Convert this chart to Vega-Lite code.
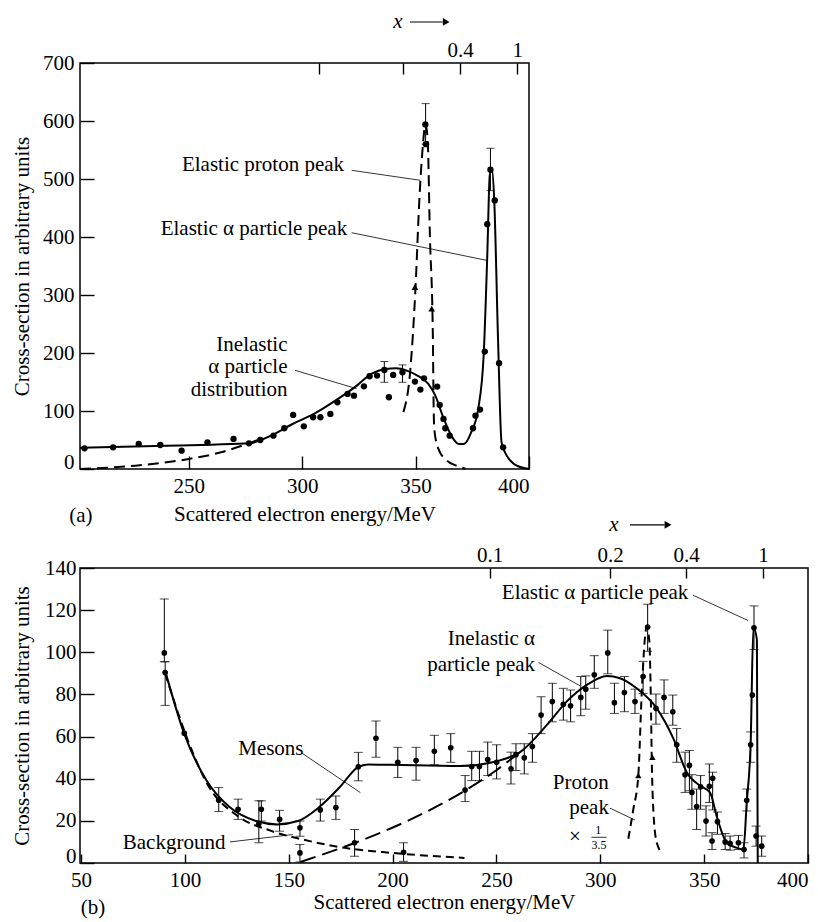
{
"$schema":"https://vega.github.io/schema/vega-lite/v6.json",
"background":"white",
"padding":{"left":10,"top":10,"right":5,"bottom":5},
"bounds":"flush",
"spacing":99,
"config":{
 "font":"Liberation Serif, DejaVu Serif, serif",
 "view":{"stroke":"#000","strokeWidth":1.5},
 "axis":{"labelFont":"Liberation Serif, DejaVu Serif, serif","labelFontSize":21,"labelColor":"#000","titleFont":"Liberation Serif, DejaVu Serif, serif","titleFontSize":21,"titleFontWeight":"normal","titleColor":"#000","tickColor":"#000","tickWidth":1.4,"domain":false,"grid":false,"labelOverlap":false},
 "text":{"font":"Liberation Serif, DejaVu Serif, serif","fontSize":21,"color":"#000"}
},
"datasets":{
 "aPts":[{"E":204.0,"v":35.7},{"E":216.6,"v":37.4},{"E":227.9,"v":43.1},{"E":237.4,"v":41.4},{"E":246.8,"v":31.6},{"E":258.2,"v":46.0},{"E":269.7,"v":51.8},{"E":276.5,"v":44.3},{"E":281.5,"v":50.0},{"E":287.3,"v":57.5},{"E":292.1,"v":70.2},{"E":296.0,"v":93.2},{"E":300.7,"v":73.6},{"E":304.8,"v":89.2},{"E":308.0,"v":89.2},{"E":312.4,"v":94.9},{"E":315.5,"v":115.0},{"E":320.0,"v":129.4},{"E":322.8,"v":126.5},{"E":327.2,"v":142.6},{"E":329.7,"v":159.9},{"E":333.0,"v":161.0},{"E":336.2,"v":170.8},{"E":338.2,"v":123.7},{"E":340.1,"v":162.2},{"E":344.2,"v":166.8},{"E":349.7,"v":150.7},{"E":352.1,"v":136.9},{"E":353.7,"v":156.4},{"E":359.5,"v":142.1},{"E":360.6,"v":110.4},{"E":362.3,"v":86.3},{"E":363.1,"v":70.2},{"E":365.0,"v":57.5},{"E":375.3,"v":70.2},{"E":376.4,"v":92.0},{"E":378.4,"v":102.4},{"E":380.5,"v":202.5},{"E":381.6,"v":422},{"E":383.0,"v":516},{"E":384.9,"v":463},{"E":386.8,"v":182.3},{"E":388.6,"v":37.4},{"E":354.3,"v":594},{"E":354.5,"v":560}],
 "aErr":[{"E":336.2,"lo":149.5,"hi":185.3},{"E":344.2,"lo":149.5,"hi":179.5},{"E":354.4,"lo":560,"hi":630},{"E":383.0,"lo":480,"hi":553}],
 "aSolid":[{"E":202,"v":36.8},{"E":240,"v":40},{"E":260,"v":42},{"E":276.8,"v":44.3},{"E":286.2,"v":57.5},{"E":295.7,"v":77.6},{"E":305.1,"v":94.9},{"E":314.6,"v":117.9},{"E":324.1,"v":143.8},{"E":330.4,"v":163.9},{"E":336.7,"v":172.6},{"E":341.4,"v":173.7},{"E":346.1,"v":169.7},{"E":350.8,"v":161.0},{"E":355.6,"v":146.7},{"E":358.7,"v":126.5},{"E":361.9,"v":92.0},{"E":365.0,"v":63.3},{"E":369.0,"v":43.1},{"E":371.3,"v":43.1},{"E":374.5,"v":63.3},{"E":377.6,"v":103.5},{"E":380.0,"v":195.6},{"E":381.6,"v":368.1},{"E":382.7,"v":506.2},{"E":383.6,"v":517.7},{"E":384.7,"v":460.2},{"E":386.3,"v":230.1},{"E":387.9,"v":46.0},{"E":390.2,"v":23.0},{"E":393.4,"v":8.6},{"E":398.1,"v":1.2},{"E":400,"v":0}],
 "aDash":[{"s":"a","E":202,"v":0},{"s":"a","E":226.4,"v":5.8},{"s":"a","E":250,"v":17.3},{"s":"a","E":264.2,"v":28.8},{"s":"a","E":276.8,"v":44.9},{"s":"a","E":281.5,"v":51.8},
  {"s":"b","E":344.6,"v":98},{"s":"b","E":347.7,"v":172.6},{"s":"b","E":350.0,"v":316.3},{"s":"b","E":351.6,"v":460.2},{"s":"b","E":353.2,"v":557.9},{"s":"b","E":354.3,"v":594},{"s":"b","E":355.3,"v":570},{"s":"b","E":356.3,"v":402.6},{"s":"b","E":357.6,"v":230},{"s":"b","E":357.9,"v":120},{"s":"b","E":358.2,"v":70},{"s":"b","E":360,"v":35},{"s":"b","E":363.7,"v":15},{"s":"b","E":368.8,"v":4.6},{"s":"b","E":372,"v":0.5}],
 "aArr":[{"E":349.7,"v":313.8},{"E":357.1,"v":276.4}],
 "aLabC":[{"E":282.7,"v":523.6,"t":"Elastic proton peak"},{"E":278.7,"v":414.3,"t":"Elastic α particle peak"},{"E":202.4,"v":-81,"t":"(a)"}],
 "aLabR":[{"E":293.5,"v":213.3,"t":"Inelastic"},{"E":293.5,"v":175.9,"t":"α particle"},{"E":293.5,"v":135.7,"t":"distribution"}],
 "aLead":[{"E":321.8,"v":515,"E2":352.0,"v2":497.8},{"E":321.8,"v":407.4,"E2":381.3,"v2":359.8},{"E":296.8,"v":170.2,"E2":324.0,"v2":138.5}],
 "aX":[{"E":342.2,"v":770.7,"t":"x"}],
 "aXr":[{"E":347.5,"E2":362,"v":770.7}],
 "aXh":[{"E":363.5,"v":770.7}],
 "bPts":[{"E":90.1,"v":99.7},{"E":90.5,"v":90.4},{"E":99.7,"v":61.6},{"E":116.3,"v":29.8},{"E":125.6,"v":25.5},{"E":135.6,"v":18.6},{"E":136.8,"v":25.5},{"E":145.6,"v":20.7},{"E":155.4,"v":16.7},{"E":155.4,"v":4.8},{"E":165.2,"v":25.2},{"E":172.7,"v":26.3},{"E":183.5,"v":45.7},{"E":181.7,"v":9.6},{"E":192.0,"v":59.2},{"E":202.5,"v":47.8},{"E":205.3,"v":5.1},{"E":211.3,"v":48.6},{"E":220.1,"v":53.0},{"E":228.0,"v":54.7},{"E":234.9,"v":34.6},{"E":238.1,"v":45.8},{"E":241.8,"v":45.8},{"E":245.8,"v":49.1},{"E":250.1,"v":47.8},{"E":257.0,"v":44.7},{"E":259.4,"v":51.4},{"E":263.4,"v":49.9},{"E":267.3,"v":55.3},{"E":271.5,"v":70.2},{"E":276.9,"v":76.6},{"E":282.2,"v":75.3},{"E":285.7,"v":74.6},{"E":290.6,"v":78.6},{"E":293.0,"v":82.5},{"E":297.1,"v":89.3},{"E":303.6,"v":99.7},{"E":306.8,"v":76.1},{"E":311.6,"v":80.9},{"E":316.7,"v":76.6},{"E":320.6,"v":88.5},{"E":322.8,"v":112.0},{"E":326.8,"v":73.4},{"E":330.7,"v":78.6},{"E":334.9,"v":71.8},{"E":336.8,"v":56.1},{"E":340.8,"v":41.9},{"E":342.9,"v":46.3},{"E":344.1,"v":33.5},{"E":346.4,"v":26.8},{"E":348.3,"v":36.2},{"E":350.9,"v":19.9},{"E":352.5,"v":36.4},{"E":354.1,"v":40.2},{"E":353.8,"v":10.4},{"E":356.4,"v":19.6},{"E":360.1,"v":10.0},{"E":362.5,"v":9.3},{"E":366.5,"v":9.6},{"E":369.2,"v":6.4},{"E":370.5,"v":29.8},{"E":372.4,"v":56.1},{"E":373.2,"v":79.7},{"E":374.0,"v":111.6},{"E":375.0,"v":12.8},{"E":377.7,"v":8.0}],
 "bErr":[{"E":90.1,"lo":95.5,"hi":125.3},{"E":90.5,"lo":74.8,"hi":95.5},{"E":116.3,"lo":24.4,"hi":35.8},{"E":125.6,"lo":20.7,"hi":30.3},{"E":135.6,"lo":9.6,"hi":29.5},{"E":136.8,"lo":19.9,"hi":29.5},{"E":145.6,"lo":15.1,"hi":25.0},{"E":155.4,"lo":12.7,"hi":19.9},{"E":155.4,"lo":0.5,"hi":8.8},{"E":165.2,"lo":19.9,"hi":30.3},{"E":172.7,"lo":20.7,"hi":31.8},{"E":183.5,"lo":39.0,"hi":52.5},{"E":181.7,"lo":3.2,"hi":15.9},{"E":192.0,"lo":50.2,"hi":67.4},{"E":202.5,"lo":40.6,"hi":54.9},{"E":205.3,"lo":0.8,"hi":9.6},{"E":211.3,"lo":39.3,"hi":54.9},{"E":220.1,"lo":46.6,"hi":60.6},{"E":228.0,"lo":47.8,"hi":61.4},{"E":234.9,"lo":29.2,"hi":41.5},{"E":238.1,"lo":39.1,"hi":53.0},{"E":241.8,"lo":39.1,"hi":53.0},{"E":245.8,"lo":41.5,"hi":57.4},{"E":250.1,"lo":39.9,"hi":56.1},{"E":257.0,"lo":37.5,"hi":52.6},{"E":259.4,"lo":43.9,"hi":56.6},{"E":263.4,"lo":42.3,"hi":56.6},{"E":267.3,"lo":47.8,"hi":61.4},{"E":271.5,"lo":61.4,"hi":78.9},{"E":276.9,"lo":67.0,"hi":85.3},{"E":282.2,"lo":67.8,"hi":82.9},{"E":285.7,"lo":67.0,"hi":82.1},{"E":290.6,"lo":69.9,"hi":88.5},{"E":293.0,"lo":73.0,"hi":88.8},{"E":297.1,"lo":82.9,"hi":98.4},{"E":303.6,"lo":89.8,"hi":110.5},{"E":306.8,"lo":71.0,"hi":85.3},{"E":311.6,"lo":71.8,"hi":88.5},{"E":316.7,"lo":71.0,"hi":82.5},{"E":320.6,"lo":80.5,"hi":95.7},{"E":322.8,"lo":100.5,"hi":122.8},{"E":326.8,"lo":65.9,"hi":80.2},{"E":330.7,"lo":71.0,"hi":86.9},{"E":334.9,"lo":65.4,"hi":79.7},{"E":336.8,"lo":47.8,"hi":63.8},{"E":340.8,"lo":33.5,"hi":52.6},{"E":342.9,"lo":34.3,"hi":53.4},{"E":344.1,"lo":25.5,"hi":41.9},{"E":346.4,"lo":15.9,"hi":35.1},{"E":348.3,"lo":25.5,"hi":41.5},{"E":350.9,"lo":12.8,"hi":27.1},{"E":352.5,"lo":28.7,"hi":47.0},{"E":354.1,"lo":25.2,"hi":43.1},{"E":353.8,"lo":6.4,"hi":14.4},{"E":356.4,"lo":13.6,"hi":24.2},{"E":360.1,"lo":6.4,"hi":14.0},{"E":362.5,"lo":6.1,"hi":12.8},{"E":366.5,"lo":6.4,"hi":13.1},{"E":369.2,"lo":2.4,"hi":9.6},{"E":370.5,"lo":24.7,"hi":35.1},{"E":372.4,"lo":47.8,"hi":62.2},{"E":374.0,"lo":101.3,"hi":122.0},{"E":375.0,"lo":8.0,"hi":17.5},{"E":377.7,"lo":3.2,"hi":12.8}],
 "bSolid":[{"E":90.5,"v":91.2},{"E":99.7,"v":61.3},{"E":110.5,"v":39.0},{"E":121.8,"v":26.3},{"E":134.3,"v":19.9},{"E":144.4,"v":18.3},{"E":154.4,"v":19.9},{"E":164.4,"v":26.3},{"E":174.4,"v":35.8},{"E":183.2,"v":45.4},{"E":188.2,"v":46.8},{"E":199.5,"v":46.6},{"E":232.5,"v":46.0},{"E":250.1,"v":48.3},{"E":261.4,"v":52.6},{"E":274.2,"v":65.4},{"E":283.8,"v":76.6},{"E":293.5,"v":84.5},{"E":303.1,"v":88.8},{"E":309.5,"v":87.7},{"E":317.5,"v":82.9},{"E":327.2,"v":73.4},{"E":335.2,"v":59.0},{"E":341.6,"v":43.1},{"E":348.0,"v":36.7},{"E":352.8,"v":33.5},{"E":356.0,"v":22.3},{"E":360.9,"v":9.6},{"E":365.7,"v":7.2},{"E":368.9,"v":6.4},{"E":370.5,"v":28.7},{"E":372.4,"v":57.4},{"E":373.7,"v":111.6},{"E":375.4,"v":106},{"E":375.8,"v":0}],
 "bDash":[{"s":"bg","E":90.5,"v":90.0},{"s":"bg","E":101.8,"v":57.3},{"s":"bg","E":111.8,"v":35.8},{"s":"bg","E":124.3,"v":23.1},{"s":"bg","E":141.9,"v":15.1},{"s":"bg","E":156.9,"v":11.1},{"s":"bg","E":176.9,"v":7.2},{"s":"bg","E":199.5,"v":4.8},{"s":"bg","E":234.6,"v":2.4},
  {"s":"pr","E":313.5,"v":11.5},{"s":"pr","E":315.9,"v":25.5},{"s":"pr","E":318.3,"v":41.5},{"s":"pr","E":319.9,"v":79.7},{"s":"pr","E":321.5,"v":106.9},{"s":"pr","E":322.3,"v":112.0},{"s":"pr","E":323.6,"v":105.3},{"s":"pr","E":324.3,"v":79.7},{"s":"pr","E":324.8,"v":47.8},{"s":"pr","E":325.6,"v":23.9},{"s":"pr","E":327.2,"v":9.6},{"s":"pr","E":330.0,"v":4.5}],
 "bMes":[{"E":155.6,"v":0.5},{"E":182,"v":9.6},{"E":207,"v":19.9},{"E":234.6,"v":34.2},{"E":249.6,"v":43.8},{"E":262.2,"v":53.3}],
 "bArr":[{"E":318.3,"v":41.5},{"E":325.1,"v":50.2}],
 "bLabC":[{"E":297.5,"v":128.0,"t":"Elastic α particle peak"},{"E":141.4,"v":54.1,"t":"Mesons"},{"E":94.8,"v":9.7,"t":"Background"},{"E":290.6,"v":37.9,"t":"Proton"},{"E":294.6,"v":26.0,"t":"peak"},{"E":287.8,"v":12.4,"t":"×"},{"E":55.8,"v":-21.5,"t":"(b)"}],
 "bLabR":[{"E":268.6,"v":106.4,"t":"Inelastic α"},{"E":268.6,"v":94.1,"t":"particle peak"}],
 "bSmall":[{"E":299.0,"v":15.8,"t":"1"},{"E":299.4,"v":8.4,"t":"3.5"}],
 "bLead":[{"E":344.6,"v":127.1,"E2":371.1,"v2":115.1},{"E":270.2,"v":95.2,"E2":290.2,"v2":84.1},{"E":156.4,"v":52.1,"E2":184.5,"v2":33.4},{"E":121.7,"v":10.0,"E2":152,"v2":13.5},{"E":304.7,"v":26.0,"E2":316.7,"v2":20.4},{"E":295.7,"v":12.2,"E2":303.0,"v2":12.2}],
 "bX":[{"E":306.6,"v":160.5,"t":"x"}],
 "bXr":[{"E":314.3,"E2":331,"v":160.5}],
 "bXh":[{"E":332.6,"v":160.5}]
},
"vconcat":[
 {"width":449,"height":406,
  "resolve":{"axis":{"x":"independent","y":"independent"}},
  "layer":[
   {"data":{"name":"aPts"},"mark":{"type":"circle","size":40,"color":"#000","opacity":1},
    "encoding":{"x":{"field":"E","type":"quantitative","scale":{"domain":[202,400],"nice":false,"zero":false},"axis":{"orient":"bottom","values":[250,300,350,400],"ticks":false,"labelPadding":6,"title":"Scattered electron energy/MeV","titlePadding":7}},
     "y":{"field":"v","type":"quantitative","scale":{"domain":[0,700],"nice":false,"zero":false},"axis":{"orient":"left","values":[0,100,200,300,400,500,600,700],"ticks":false,"labelPadding":6,"labelOffset":{"condition":{"test":"datum.value === 0","value":-7},"value":0},"title":"Cross-section in arbitrary units","titlePadding":10}}}},
   {"data":{"name":"aPts"},"mark":{"type":"point","opacity":0},
    "encoding":{"x":{"field":"E","type":"quantitative","scale":{"domain":[202,400],"nice":false,"zero":false},"axis":{"orient":"bottom","values":[250,300,350,400],"labels":false,"tickSize":13,"offset":-13,"title":null}},
     "y":{"field":"v","type":"quantitative","scale":{"domain":[0,700],"nice":false,"zero":false},"axis":{"orient":"left","values":[0,100,200,300,400,500,600,700],"labels":false,"tickSize":14,"offset":-14,"title":null}}}},
   {"data":{"name":"aPts"},"mark":{"type":"point","opacity":0},
    "encoding":{"x":{"field":"E","type":"quantitative","scale":{"domain":[202,400],"nice":false,"zero":false},"axis":{"orient":"top","values":[307.5,344.6,369.6,394.8],"labelExpr":"datum.value > 390 ? '1' : datum.value > 360 ? '0.4' : ''","ticks":false,"labelPadding":3,"title":null}},
     "y":{"field":"v","type":"quantitative","scale":{"domain":[0,700],"nice":false,"zero":false},"axis":null}}},
   {"data":{"name":"aPts"},"mark":{"type":"point","opacity":0},
    "encoding":{"x":{"field":"E","type":"quantitative","scale":{"domain":[202,400],"nice":false,"zero":false},"axis":{"orient":"top","values":[307.5,344.6,369.6,394.8],"labels":false,"tickSize":11,"offset":-11,"title":null}},
     "y":{"field":"v","type":"quantitative","scale":{"domain":[0,700],"nice":false,"zero":false},"axis":null}}},
   {"data":{"name":"aErr"},"mark":{"type":"errorbar","ticks":{"size":8},"color":"#000","thickness":1},
    "encoding":{"x":{"field":"E","type":"quantitative","scale":{"domain":[202,400],"nice":false,"zero":false},"axis":null},"y":{"field":"lo","type":"quantitative","scale":{"domain":[0,700],"nice":false,"zero":false},"axis":null},"y2":{"field":"hi"}}},
   {"data":{"name":"aSolid"},"mark":{"type":"line","interpolate":"monotone","color":"#000","strokeWidth":2},
    "encoding":{"x":{"field":"E","type":"quantitative","scale":{"domain":[202,400],"nice":false,"zero":false},"axis":null},"y":{"field":"v","type":"quantitative","scale":{"domain":[0,700],"nice":false,"zero":false},"axis":null}}},
   {"data":{"name":"aDash"},"mark":{"type":"line","interpolate":"monotone","color":"#000","strokeWidth":2,"strokeDash":[11,6]},
    "encoding":{"x":{"field":"E","type":"quantitative","scale":{"domain":[202,400],"nice":false,"zero":false},"axis":null},"y":{"field":"v","type":"quantitative","scale":{"domain":[0,700],"nice":false,"zero":false},"axis":null},"detail":{"field":"s","type":"nominal"}}},
   {"data":{"name":"aArr"},"mark":{"type":"point","shape":"triangle-up","filled":true,"size":45,"color":"#000","opacity":1},
    "encoding":{"x":{"field":"E","type":"quantitative","scale":{"domain":[202,400],"nice":false,"zero":false},"axis":null},"y":{"field":"v","type":"quantitative","scale":{"domain":[0,700],"nice":false,"zero":false},"axis":null}}},
   {"data":{"name":"aLead"},"mark":{"type":"rule","color":"#000","strokeWidth":0.8},
    "encoding":{"x":{"field":"E","type":"quantitative","scale":{"domain":[202,400],"nice":false,"zero":false},"axis":null},"y":{"field":"v","type":"quantitative","scale":{"domain":[0,700],"nice":false,"zero":false},"axis":null},"x2":{"field":"E2"},"y2":{"field":"v2"}}},
   {"data":{"name":"aLabC"},"mark":{"type":"text","align":"center","baseline":"middle"},
    "encoding":{"x":{"field":"E","type":"quantitative","scale":{"domain":[202,400],"nice":false,"zero":false},"axis":null},"y":{"field":"v","type":"quantitative","scale":{"domain":[0,700],"nice":false,"zero":false},"axis":null},"text":{"field":"t"}}},
   {"data":{"name":"aLabR"},"mark":{"type":"text","align":"right","baseline":"middle"},
    "encoding":{"x":{"field":"E","type":"quantitative","scale":{"domain":[202,400],"nice":false,"zero":false},"axis":null},"y":{"field":"v","type":"quantitative","scale":{"domain":[0,700],"nice":false,"zero":false},"axis":null},"text":{"field":"t"}}},
   {"data":{"name":"aX"},"mark":{"type":"text","align":"center","baseline":"middle","fontStyle":"italic"},
    "encoding":{"x":{"field":"E","type":"quantitative","scale":{"domain":[202,400],"nice":false,"zero":false},"axis":null},"y":{"field":"v","type":"quantitative","scale":{"domain":[0,700],"nice":false,"zero":false},"axis":null},"text":{"field":"t"}}},
   {"data":{"name":"aXr"},"mark":{"type":"rule","color":"#000","strokeWidth":1.2},
    "encoding":{"x":{"field":"E","type":"quantitative","scale":{"domain":[202,400],"nice":false,"zero":false},"axis":null},"x2":{"field":"E2"},"y":{"field":"v","type":"quantitative","scale":{"domain":[0,700],"nice":false,"zero":false},"axis":null}}},
   {"data":{"name":"aXh"},"mark":{"type":"point","shape":"triangle-right","filled":true,"size":60,"color":"#000","opacity":1},
    "encoding":{"x":{"field":"E","type":"quantitative","scale":{"domain":[202,400],"nice":false,"zero":false},"axis":null},"y":{"field":"v","type":"quantitative","scale":{"domain":[0,700],"nice":false,"zero":false},"axis":null}}}
  ]},
 {"width":728,"height":295,
  "resolve":{"axis":{"x":"independent","y":"independent"}},
  "layer":[
   {"data":{"name":"bPts"},"mark":{"type":"circle","size":32,"color":"#000","opacity":1},
    "encoding":{"x":{"field":"E","type":"quantitative","scale":{"domain":[49.5,400],"nice":false,"zero":false},"axis":{"orient":"bottom","values":[50,100,150,200,250,300,350,400],"ticks":false,"labelPadding":6,"labelFlush":true,"title":"Scattered electron energy/MeV","titlePadding":1}},
     "y":{"field":"v","type":"quantitative","scale":{"domain":[0,140],"nice":false,"zero":false},"axis":{"orient":"left","values":[0,20,40,60,80,100,120,140],"ticks":false,"labelPadding":4,"labelOffset":{"condition":{"test":"datum.value === 0","value":-7},"value":0},"title":"Cross-section in arbitrary units","titlePadding":12}}}},
   {"data":{"name":"bPts"},"mark":{"type":"point","opacity":0},
    "encoding":{"x":{"field":"E","type":"quantitative","scale":{"domain":[49.5,400],"nice":false,"zero":false},"axis":{"orient":"bottom","values":[50,100,150,200,250,300,350,400],"labels":false,"tickSize":9,"offset":-9,"title":null}},
     "y":{"field":"v","type":"quantitative","scale":{"domain":[0,140],"nice":false,"zero":false},"axis":{"orient":"left","values":[0,20,40,60,80,100,120,140],"labels":false,"tickSize":14,"offset":-14,"title":null}}}},
   {"data":{"name":"bPts"},"mark":{"type":"point","opacity":0},
    "encoding":{"x":{"field":"E","type":"quantitative","scale":{"domain":[49.5,400],"nice":false,"zero":false},"axis":{"orient":"top","values":[246.7,304.7,341.3,378.3],"labelExpr":"datum.value > 370 ? '1' : datum.value > 330 ? '0.4' : datum.value > 290 ? '0.2' : '0.1'","ticks":false,"labelPadding":3,"title":null}},
     "y":{"field":"v","type":"quantitative","scale":{"domain":[0,140],"nice":false,"zero":false},"axis":null}}},
   {"data":{"name":"bPts"},"mark":{"type":"point","opacity":0},
    "encoding":{"x":{"field":"E","type":"quantitative","scale":{"domain":[49.5,400],"nice":false,"zero":false},"axis":{"orient":"top","values":[246.7,304.7,341.3,378.3],"labels":false,"tickSize":10,"offset":-10,"title":null}},
     "y":{"field":"v","type":"quantitative","scale":{"domain":[0,140],"nice":false,"zero":false},"axis":null}}},
   {"data":{"name":"bErr"},"mark":{"type":"errorbar","ticks":{"size":9},"color":"#000","thickness":1},
    "encoding":{"x":{"field":"E","type":"quantitative","scale":{"domain":[49.5,400],"nice":false,"zero":false},"axis":null},"y":{"field":"lo","type":"quantitative","scale":{"domain":[0,140],"nice":false,"zero":false},"axis":null},"y2":{"field":"hi"}}},
   {"data":{"name":"bSolid"},"mark":{"type":"line","interpolate":"monotone","color":"#000","strokeWidth":2},
    "encoding":{"x":{"field":"E","type":"quantitative","scale":{"domain":[49.5,400],"nice":false,"zero":false},"axis":null},"y":{"field":"v","type":"quantitative","scale":{"domain":[0,140],"nice":false,"zero":false},"axis":null}}},
   {"data":{"name":"bDash"},"mark":{"type":"line","interpolate":"monotone","color":"#000","strokeWidth":2,"strokeDash":[8,5]},
    "encoding":{"x":{"field":"E","type":"quantitative","scale":{"domain":[49.5,400],"nice":false,"zero":false},"axis":null},"y":{"field":"v","type":"quantitative","scale":{"domain":[0,140],"nice":false,"zero":false},"axis":null},"detail":{"field":"s","type":"nominal"}}},
   {"data":{"name":"bMes"},"mark":{"type":"line","interpolate":"monotone","color":"#000","strokeWidth":2,"strokeDash":[16,7]},
    "encoding":{"x":{"field":"E","type":"quantitative","scale":{"domain":[49.5,400],"nice":false,"zero":false},"axis":null},"y":{"field":"v","type":"quantitative","scale":{"domain":[0,140],"nice":false,"zero":false},"axis":null}}},
   {"data":{"name":"bArr"},"mark":{"type":"point","shape":"triangle-up","filled":true,"size":40,"color":"#000","opacity":1},
    "encoding":{"x":{"field":"E","type":"quantitative","scale":{"domain":[49.5,400],"nice":false,"zero":false},"axis":null},"y":{"field":"v","type":"quantitative","scale":{"domain":[0,140],"nice":false,"zero":false},"axis":null}}},
   {"data":{"name":"bLead"},"mark":{"type":"rule","color":"#000","strokeWidth":0.8},
    "encoding":{"x":{"field":"E","type":"quantitative","scale":{"domain":[49.5,400],"nice":false,"zero":false},"axis":null},"y":{"field":"v","type":"quantitative","scale":{"domain":[0,140],"nice":false,"zero":false},"axis":null},"x2":{"field":"E2"},"y2":{"field":"v2"}}},
   {"data":{"name":"bLabC"},"mark":{"type":"text","align":"center","baseline":"middle"},
    "encoding":{"x":{"field":"E","type":"quantitative","scale":{"domain":[49.5,400],"nice":false,"zero":false},"axis":null},"y":{"field":"v","type":"quantitative","scale":{"domain":[0,140],"nice":false,"zero":false},"axis":null},"text":{"field":"t"}}},
   {"data":{"name":"bLabR"},"mark":{"type":"text","align":"right","baseline":"middle"},
    "encoding":{"x":{"field":"E","type":"quantitative","scale":{"domain":[49.5,400],"nice":false,"zero":false},"axis":null},"y":{"field":"v","type":"quantitative","scale":{"domain":[0,140],"nice":false,"zero":false},"axis":null},"text":{"field":"t"}}},
   {"data":{"name":"bSmall"},"mark":{"type":"text","align":"center","baseline":"middle","fontSize":12},
    "encoding":{"x":{"field":"E","type":"quantitative","scale":{"domain":[49.5,400],"nice":false,"zero":false},"axis":null},"y":{"field":"v","type":"quantitative","scale":{"domain":[0,140],"nice":false,"zero":false},"axis":null},"text":{"field":"t"}}},
   {"data":{"name":"bX"},"mark":{"type":"text","align":"center","baseline":"middle","fontStyle":"italic"},
    "encoding":{"x":{"field":"E","type":"quantitative","scale":{"domain":[49.5,400],"nice":false,"zero":false},"axis":null},"y":{"field":"v","type":"quantitative","scale":{"domain":[0,140],"nice":false,"zero":false},"axis":null},"text":{"field":"t"}}},
   {"data":{"name":"bXr"},"mark":{"type":"rule","color":"#000","strokeWidth":1.2},
    "encoding":{"x":{"field":"E","type":"quantitative","scale":{"domain":[49.5,400],"nice":false,"zero":false},"axis":null},"x2":{"field":"E2"},"y":{"field":"v","type":"quantitative","scale":{"domain":[0,140],"nice":false,"zero":false},"axis":null}}},
   {"data":{"name":"bXh"},"mark":{"type":"point","shape":"triangle-right","filled":true,"size":60,"color":"#000","opacity":1},
    "encoding":{"x":{"field":"E","type":"quantitative","scale":{"domain":[49.5,400],"nice":false,"zero":false},"axis":null},"y":{"field":"v","type":"quantitative","scale":{"domain":[0,140],"nice":false,"zero":false},"axis":null}}}
  ]}
]
}
